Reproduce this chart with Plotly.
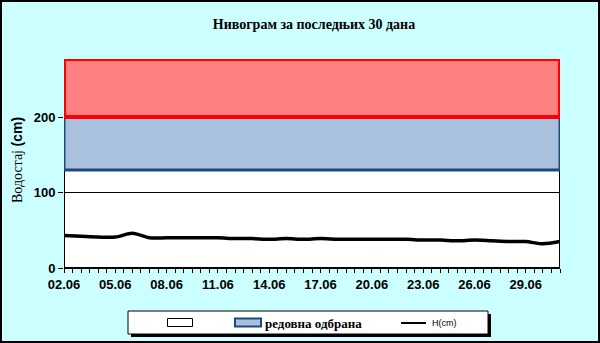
import plotly.graph_objects as go

# ---- data ----
dates = ["02.06", "03.06", "04.06", "05.06", "06.06", "07.06", "08.06", "09.06", "10.06", "11.06",
         "12.06", "13.06", "14.06", "15.06", "16.06", "17.06", "18.06", "19.06", "20.06", "21.06",
         "22.06", "23.06", "24.06", "25.06", "26.06", "27.06", "28.06", "29.06", "30.06", "01.07"]
h_cm = [43, 42, 41, 41, 46, 40, 40, 40, 40, 40,
        39, 39, 38, 39, 38, 39, 38, 38, 38, 38,
        38, 37, 37, 36, 37, 36, 35, 35, 32, 35]
band_white = [0, 130]          # unnamed band
band_regular = [130, 200]      # "редовна одбрана"
band_extra = [200, 277]        # upper band
y_ticks = [0, 100, 200]
title_text = "Нивограм за последњих 30 дана"
legend_regular = "редовна одбрана"
legend_line = "H(cm)"

# ---- geometry ----
W, H = 600, 343
ML, MR, MT, MB = 64, 40, 59, 75
PW, PH = W - ML - MR, H - MT - MB


def px_x(px):
    return (px - ML) / PW


def px_y(py):
    return (H - MB - py) / PH


SERIF = "Liberation Serif, Times New Roman, serif"
SANS = "Liberation Sans, Arial, sans-serif"
BLUE_FILL = "#A9C1DE"
BLUE_LINE = "#1F497D"
RED_FILL = "#FF8080"
RED_LINE = "#FF0000"

xi = list(range(len(dates)))
x0, x1 = xi[0], xi[-1]


def rect(lo, hi):
    return [x0, x1, x1, x0, x0], [lo, lo, hi, hi, lo]


fig = go.Figure()

rx, ry = rect(*band_white)
fig.add_trace(go.Scatter(x=rx, y=ry, mode="lines", fill="toself",
                         fillcolor="rgba(0,0,0,0)", line=dict(color="black", width=2),
                         showlegend=False, hoverinfo="skip"))
rx, ry = rect(*band_regular)
fig.add_trace(go.Scatter(x=rx, y=ry, mode="lines", fill="toself",
                         fillcolor=BLUE_FILL, line=dict(color=BLUE_LINE, width=3),
                         showlegend=False, hoverinfo="skip"))
rx, ry = rect(*band_extra)
fig.add_trace(go.Scatter(x=rx, y=ry, mode="lines", fill="toself",
                         fillcolor=RED_FILL, line=dict(color=RED_LINE, width=4),
                         showlegend=False, hoverinfo="skip"))
fig.add_trace(go.Scatter(x=xi, y=h_cm, mode="lines", name=legend_line,
                         line=dict(color="black", width=3.5, shape="spline", smoothing=0.8),
                         showlegend=False))

# ---- manual legend (Excel style box with shadow) ----
shapes = []
# figure border
shapes.append(dict(type="rect", xref="paper", yref="paper",
                   x0=px_x(1), x1=px_x(599), y0=px_y(342), y1=px_y(1),
                   line=dict(color="black", width=2), fillcolor="rgba(0,0,0,0)", layer="above"))
# legend shadow + box
shapes.append(dict(type="rect", xref="paper", yref="paper",
                   x0=px_x(131), x1=px_x(491), y0=px_y(337), y1=px_y(314),
                   line=dict(width=0), fillcolor="black", layer="above"))
shapes.append(dict(type="rect", xref="paper", yref="paper",
                   x0=px_x(128), x1=px_x(488), y0=px_y(334), y1=px_y(311),
                   line=dict(color="black", width=1), fillcolor="white", layer="above"))
# white item
shapes.append(dict(type="rect", xref="paper", yref="paper",
                   x0=px_x(167.5), x1=px_x(192.5), y0=px_y(326.5), y1=px_y(318.5),
                   line=dict(color="black", width=1), fillcolor="white", layer="above"))
# blue item
shapes.append(dict(type="rect", xref="paper", yref="paper",
                   x0=px_x(235), x1=px_x(261), y0=px_y(326.5), y1=px_y(318.5),
                   line=dict(color=BLUE_LINE, width=2), fillcolor=BLUE_FILL, layer="above"))
# line item
shapes.append(dict(type="line", xref="paper", yref="paper",
                   x0=px_x(401), x1=px_x(426), y0=px_y(323), y1=px_y(323),
                   line=dict(color="black", width=2), layer="above"))

annotations = [
    dict(text="<b>" + legend_regular + "</b>", xref="paper", yref="paper",
         x=px_x(263), y=px_y(323), xanchor="left", yanchor="middle", showarrow=False,
         font=dict(family=SERIF, size=13, color="black")),
    dict(text=legend_line, xref="paper", yref="paper",
         x=px_x(430), y=px_y(323), xanchor="left", yanchor="middle", showarrow=False,
         font=dict(family=SANS, size=9, color="black")),
    dict(text="Водостај <span style='font-family:Liberation Sans, Arial, sans-serif'><b>(cm)</b></span>",
         xref="paper", yref="paper", x=px_x(17), y=px_y(160), textangle=-90,
         xanchor="center", yanchor="middle", showarrow=False,
         font=dict(family=SERIF, size=14, color="black")),
]

fig.update_layout(
    width=W, height=H,
    margin=dict(l=ML, r=MR, t=MT, b=MB, pad=0),
    paper_bgcolor="#CCFFFF",
    plot_bgcolor="white",
    showlegend=False,
    title=dict(text="<b>" + title_text + "</b>", x=314 / W, xref="container",
               xanchor="center", y=1 - 24 / H, yanchor="middle",
               font=dict(family=SERIF, size=14, color="black")),
    shapes=shapes,
    annotations=annotations,
    xaxis=dict(range=[x0, x1], tickmode="array", tickvals=xi[::3], ticktext=dates[::3],
               showgrid=False, zeroline=False, showline=True, linecolor="black", linewidth=1,
               ticks="outside", ticklen=4, tickcolor="black", tickwidth=1,
               minor=dict(dtick=0.5, ticks="outside", ticklen=4, tickcolor="black", showgrid=False),
               tickfont=dict(family=SANS, size=13, color="black", weight="bold"),
               layer="below traces", fixedrange=True),
    yaxis=dict(range=[band_white[0], band_extra[1]], tickmode="array", tickvals=y_ticks,
               showgrid=True, gridcolor="black", gridwidth=1, zeroline=False, showline=False,
               ticks="outside", ticklen=5, tickcolor="black",
               tickfont=dict(family=SANS, size=13, color="black", weight="bold"),
               layer="below traces", fixedrange=True),
)

fig.write_html("out.html")
